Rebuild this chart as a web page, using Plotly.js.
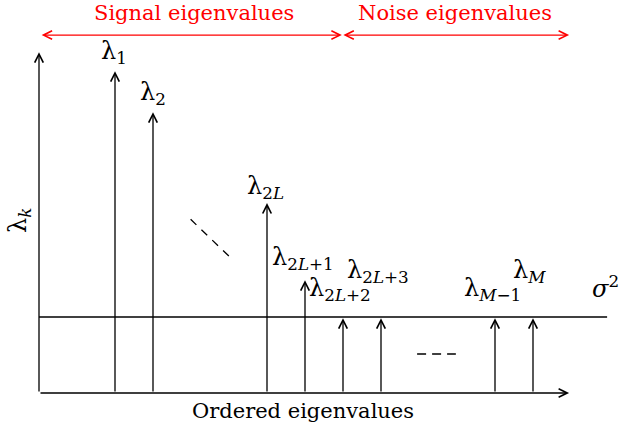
<!DOCTYPE html>
<html>
<head>
<meta charset="utf-8">
<script src="https://cdn.plot.ly/plotly-3.0.1.min.js"></script>
<style>html,body{margin:0;padding:0;background:#fff;}#chart{width:619px;height:432px;}</style>
</head>
<body>
<div id="chart"></div>
<script>
// ---- data ----
const positions   = [2, 3, 6, 7, 8, 9, 12, 13];
const eigenvalues = [8.47, 7.39, 5.0, 2.97, 1.97, 1.97, 1.97, 1.97];
const stemLabels  = ['λ<sub>1</sub>', 'λ<sub>2</sub>', 'λ<sub>2<i>L</i></sub>', 'λ<sub>2<i>L</i>+1</sub>',
                     'λ<sub>2<i>L</i>+2</sub>', 'λ<sub>2<i>L</i>+3</sub>', 'λ<sub><i>M</i>−1</sub>', 'λ<sub><i>M</i></sub>'];
const noiseLevel  = 2.0;
const sigmaLabel  = '<i>σ</i><sup>2</sup>';
const regionNames = ['Signal eigenvalues', 'Noise eigenvalues'];
const regionBounds = [0.03, 7.97, 13.95];
const axisMaxX = 13.95, axisMaxY = 8.97, lineEndX = 14.95;
const xTitle = 'Ordered eigenvalues';
const yTitle = 'λ<sub><i>k</i></sub>';

// ---- placement (label centres, data units) ----
const labelPos = [[1.97, 8.95], [3.0, 7.88], [5.95, 5.42], [6.96, 3.55], [7.92, 2.72], [8.93, 3.2], [11.93, 2.72], [12.9, 3.2]];

const serif = 'DejaVu Serif';
const arrowBase = {xref: 'x', yref: 'y', axref: 'x', ayref: 'y', text: '', showarrow: true, arrowhead: 5, arrowsize: 1.3, arrowwidth: 1.3, arrowcolor: '#000'};
const ann = [];
ann.push(Object.assign({}, arrowBase, {x: 0, y: axisMaxY, ax: 0, ay: 0}));
ann.push(Object.assign({}, arrowBase, {x: axisMaxX, y: 0, ax: 0, ay: 0}));
positions.forEach((p, i) => {
  ann.push(Object.assign({}, arrowBase, {x: p, y: eigenvalues[i], ax: p, ay: 0}));
  ann.push({x: labelPos[i][0], y: labelPos[i][1], xref: 'x', yref: 'y', text: stemLabels[i], showarrow: false, xanchor: 'center', yanchor: 'middle', font: {family: serif, size: 24, color: '#000'}});
});
for (let r = 0; r < 2; r++) {
  ann.push(Object.assign({}, arrowBase, {x: regionBounds[r + 1], y: 9.42, ax: regionBounds[r], ay: 9.42, startarrowhead: 5, arrowside: 'end+start', startarrowsize: 1.3, arrowcolor: '#ff0000'}));
}
ann.push({x: 4.08, y: 10.0, xref: 'x', yref: 'y', text: regionNames[0], showarrow: false, font: {family: serif, size: 21, color: '#ff0000'}});
ann.push({x: 10.95, y: 10.0, xref: 'x', yref: 'y', text: regionNames[1], showarrow: false, font: {family: serif, size: 21, color: '#ff0000'}});
ann.push({x: 14.9, y: 2.8, xref: 'x', yref: 'y', text: sigmaLabel, showarrow: false, font: {family: serif, size: 24, color: '#000'}});
ann.push({x: (303 - 39) / 580, y: -18 / 393, xref: 'paper', yref: 'paper', text: xTitle, showarrow: false, yanchor: 'middle', font: {family: serif, size: 21, color: '#000'}});
ann.push({x: -20 / 580, y: (393 - 221) / 393, xref: 'paper', yref: 'paper', text: yTitle, textangle: -90, showarrow: false, xanchor: 'center', yanchor: 'middle', font: {family: serif, size: 24, color: '#000'}});

const traces = [
  {x: [0, lineEndX], y: [noiseLevel, noiseLevel], mode: 'lines', line: {color: '#000', width: 1.3}, hoverinfo: 'skip'},
  {x: [3.99, 5.01], y: [4.57, 3.59], mode: 'lines', line: {color: '#000', width: 1.3, dash: '8px,7px'}, hoverinfo: 'skip'},
  {x: [9.95, 10.97], y: [1.026, 1.026], mode: 'lines', line: {color: '#000', width: 1.3, dash: '9px,6px'}, hoverinfo: 'skip'}
];

const layout = {
  width: 619, height: 432,
  margin: {l: 39, r: 0, t: 0, b: 39},
  paper_bgcolor: '#fff', plot_bgcolor: '#fff',
  showlegend: false,
  font: {family: serif},
  xaxis: {range: [0, 580 / 38], visible: false, fixedrange: true},
  yaxis: {range: [0, 393 / 38], visible: false, fixedrange: true},
  annotations: ann
};
Plotly.newPlot('chart', traces, layout, {displayModeBar: false, staticPlot: true});
</script>
</body>
</html>
